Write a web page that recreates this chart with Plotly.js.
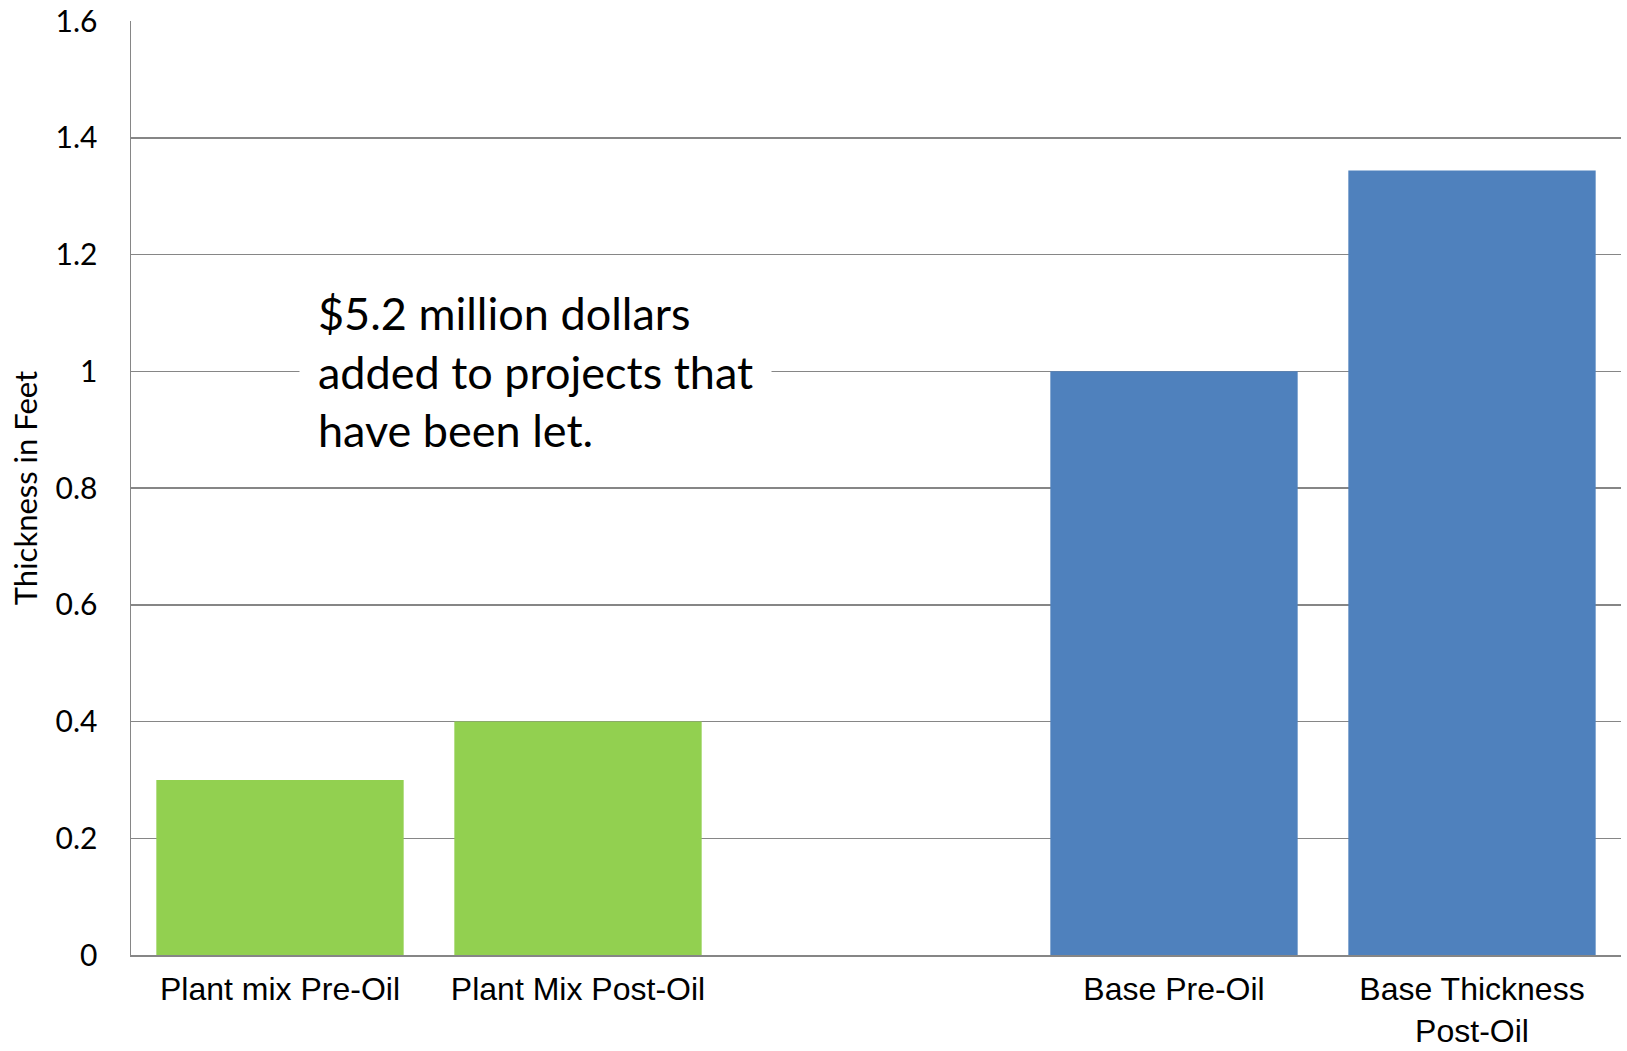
<!DOCTYPE html>
<html>
<head>
<meta charset="utf-8">
<script src="https://cdn.plot.ly/plotly-3.0.1.min.js"></script>
<style>html,body{margin:0;padding:0;background:#fff;}#chart{width:1627px;height:1051px;}</style>
</head>
<body>
<div id="chart"></div>
<script>
const categories = ['Plant mix Pre-Oil', 'Plant Mix Post-Oil', ' ', 'Base Pre-Oil', 'Base Thickness<br>Post-Oil'];
const plantMixLabels = ['Plant mix Pre-Oil', 'Plant Mix Post-Oil'];
const plantMixValues = [0.3, 0.4];
const baseLabels = ['Base Pre-Oil', 'Base Thickness<br>Post-Oil'];
const baseValues = [1.0, 1.344];
const yTicks = [0, 0.2, 0.4, 0.6, 0.8, 1, 1.2, 1.4, 1.6];
const yTickText = ['0', '0.2', '0.4', '0.6', '0.8', '1', '1.2', '1.4', '1.6'];
const noteText = '$5.2 million dollars<br>added to projects that<br>have been let.';

const gridColor = '#868686';
const traces = [
  {type: 'bar', x: plantMixLabels, y: plantMixValues, marker: {color: '#92D050'}, hoverinfo: 'x+y'},
  {type: 'bar', x: baseLabels, y: baseValues, marker: {color: '#4F81BD'}, hoverinfo: 'x+y'}
];
const layout = {
  width: 1627, height: 1051,
  margin: {l: 131, r: 6, t: 21, b: 96},
  paper_bgcolor: '#fff', plot_bgcolor: '#fff',
  showlegend: false,
  barmode: 'overlay',
  bargap: 0.17,
  xaxis: {
    type: 'category', categoryorder: 'array', categoryarray: categories,
    range: [-0.5, 4.5],
    showgrid: false, zeroline: false,
    showline: true, linecolor: gridColor, linewidth: 1.5,
    ticks: '', ticklabelstandoff: 5,
    tickfont: {family: 'Liberation Sans, Arial, sans-serif', size: 32, color: '#000'}
  },
  yaxis: {
    range: [0, 1.6], tickvals: yTicks, ticktext: yTickText,
    showgrid: true, gridcolor: gridColor, gridwidth: 1.5,
    zeroline: false,
    showline: true, linecolor: gridColor, linewidth: 1.5,
    ticks: '', ticklabelstandoff: 26,
    tickfont: {family: 'Lato, Carlito, Calibri, sans-serif', size: 30, color: '#000'},
    title: {text: 'Thickness in Feet', standoff: 9, font: {family: 'Lato, Carlito, Calibri, sans-serif', size: 31, color: '#000'}}
  },
  annotations: [{
    xref: 'paper', yref: 'y', x: 0.113, y: 1, xanchor: 'left', yanchor: 'middle',
    text: noteText, align: 'left', showarrow: false,
    bgcolor: '#fff', borderpad: 18,
    font: {family: 'Lato, Carlito, Calibri, sans-serif', size: 45, color: '#000'}
  }]
};
Plotly.newPlot('chart', traces, layout, {displayModeBar: false, staticPlot: true});
</script>
</body>
</html>
